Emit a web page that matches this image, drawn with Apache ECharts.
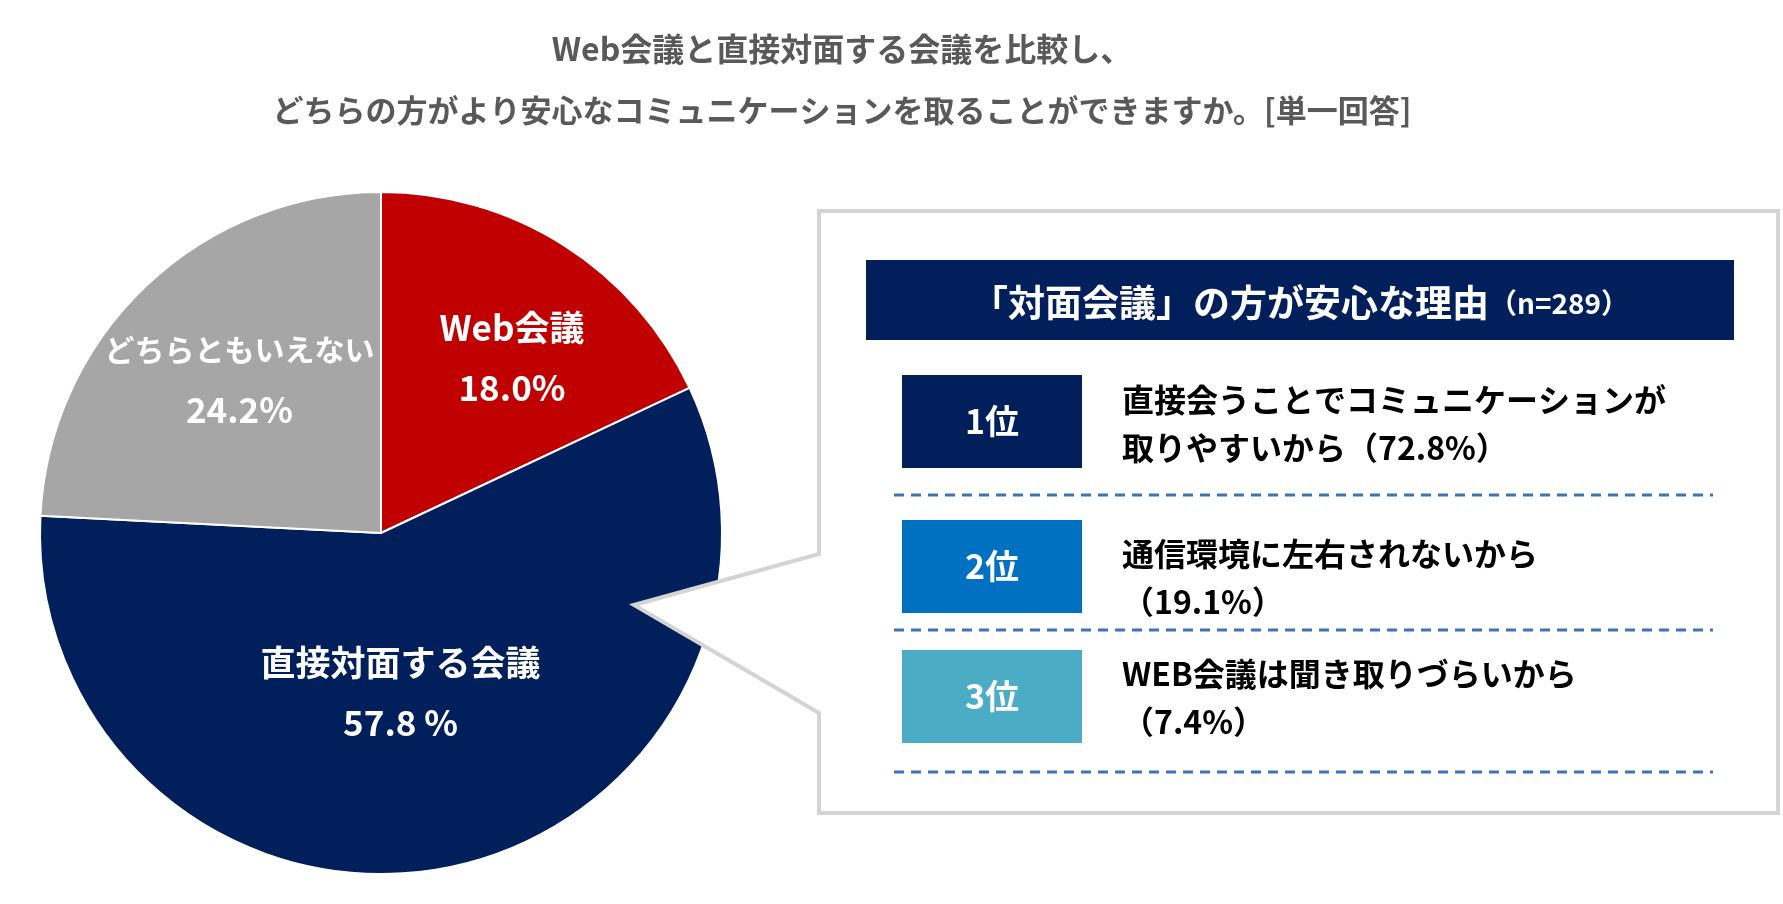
<!DOCTYPE html>
<html>
<head>
<meta charset="utf-8">
<script src="https://cdn.jsdelivr.net/npm/echarts@6/dist/echarts.min.js"></script>
<style>
html,body{margin:0;padding:0;background:#fff;}
#chart{width:1783px;height:904px;}
</style>
</head>
<body>
<div id="chart"></div>
<script>
// ---- data ----
var titleLines = ['Web会議と直接対面する会議を比較し、', 'どちらの方がより安心なコミュニケーションを取ることができますか。[単一回答]'];
var categories = ['Web会議', '直接対面する会議', 'どちらともいえない'];
var values = [18.0, 57.8, 24.2];
var valueSuffix = ['%', ' %', '%'];
var sliceColors = ['#c00000', '#001f5b', '#a6a6a6'];

var reasonTitle = '「対面会議」の方が安心な理由';
var reasonN = '（n=289）';
var reasonRanks = ['1位', '2位', '3位'];
var reasonLine1 = ['直接会うことでコミュニケーションが', '通信環境に左右されないから', 'WEB会議は聞き取りづらいから'];
var reasonLine2Prefix = ['取りやすいから', '', ''];
var reasonPcts = [72.8, 19.1, 7.4];
var rankColors = ['#001f5b', '#0070c0', '#4bacc6'];

// ---- layout (style) ----
var FONT = '"Noto Sans CJK JP", "Noto Sans", sans-serif';
var labelShift = [[38, -29], [-14, -11], [-22, -28]];
var nameStyle = ['n', 'n', 's'];
var titleSizes = [32, 31];
var rankBoxTop = [375, 520, 650];
var rankBoxH = 93;
var textTop = [376, 530, 650];
var dashY = [495, 630, 772];

var graphics = [];
// title
titleLines.forEach(function (t, i) {
  graphics.push({
    type: 'text', x: 842, y: [49, 110][i], z: 10,
    style: { text: t, fill: '#595959', font: 'bold ' + titleSizes[i] + 'px ' + FONT, textAlign: 'center', textVerticalAlign: 'middle' }
  });
});
// callout box with tail
graphics.push({
  type: 'polygon', z: 10,
  shape: { points: [[819, 211], [1778, 211], [1778, 813], [819, 813], [819, 713], [634, 605], [819, 554]] },
  style: { fill: '#ffffff', stroke: '#d4d4d4', lineWidth: 4, lineJoin: 'miter' }
});
// header bar
graphics.push({
  type: 'rect', z: 11, shape: { x: 866, y: 260, width: 868, height: 80 },
  style: { fill: '#001f5b' }
});
graphics.push({
  type: 'text', x: 1300, y: 303, z: 12,
  style: {
    text: '{a|' + reasonTitle + '}{b|' + reasonN + '}',
    textAlign: 'center', textVerticalAlign: 'middle',
    rich: {
      a: { fill: '#fff', font: 'bold 37px ' + FONT },
      b: { fill: '#fff', font: 'bold 28px ' + FONT }
    }
  }
});
reasonRanks.forEach(function (r, i) {
  graphics.push({
    type: 'rect', z: 11, shape: { x: 902, y: rankBoxTop[i], width: 180, height: rankBoxH },
    style: { fill: rankColors[i] }
  });
  graphics.push({
    type: 'text', x: 992, y: rankBoxTop[i] + rankBoxH / 2, z: 12,
    style: { text: r, fill: '#fff', font: 'bold 34px ' + FONT, textAlign: 'center', textVerticalAlign: 'middle' }
  });
  graphics.push({
    type: 'text', x: 1122, y: textTop[i], z: 12,
    style: {
      text: reasonLine1[i] + '\n' + reasonLine2Prefix[i] + '（' + reasonPcts[i].toFixed(1) + '%）',
      fill: '#000', font: 'bold 32px ' + FONT, lineHeight: 48, textAlign: 'left', textVerticalAlign: 'top'
    }
  });
});
dashY.forEach(function (y) {
  graphics.push({
    type: 'line', z: 11, shape: { x1: 894, y1: y, x2: 1713, y2: y },
    style: { stroke: '#3f72b8', lineWidth: 3, lineDash: [10, 7] }
  });
});

var chart = echarts.init(document.getElementById('chart'));
chart.setOption({
  animation: false,
  backgroundColor: '#ffffff',
  graphic: { elements: graphics },
  series: [{
    type: 'pie',
    center: [381, 533],
    radius: [0, 341],
    startAngle: 90,
    clockwise: true,
    silent: true,
    itemStyle: { borderColor: '#ffffff', borderWidth: 2 },
    label: {
      show: true,
      position: 'inside',
      color: '#ffffff',
      fontFamily: FONT,
      fontWeight: 'bold',
      fontSize: 35,
      lineHeight: 60,
      formatter: function (p) {
        return '{' + nameStyle[p.dataIndex] + '|' + p.name + '}\n{v|' + p.value.toFixed(1) + valueSuffix[p.dataIndex] + '}';
      },
      rich: {
        n: { color: '#fff', fontFamily: FONT, fontWeight: 'bold', fontSize: 35, lineHeight: 60 },
        s: { color: '#fff', fontFamily: FONT, fontWeight: 'bold', fontSize: 30, lineHeight: 60 },
        v: { color: '#fff', fontFamily: FONT, fontWeight: 'bold', fontSize: 35, lineHeight: 60 }
      }
    },
    labelLine: { show: false },
    labelLayout: function (p) { return { dx: labelShift[p.dataIndex][0], dy: labelShift[p.dataIndex][1] }; },
    emphasis: { disabled: true },
    data: categories.map(function (c, i) {
      return { name: c, value: values[i], itemStyle: { color: sliceColors[i] } };
    })
  }]
});
</script>
</body>
</html>
